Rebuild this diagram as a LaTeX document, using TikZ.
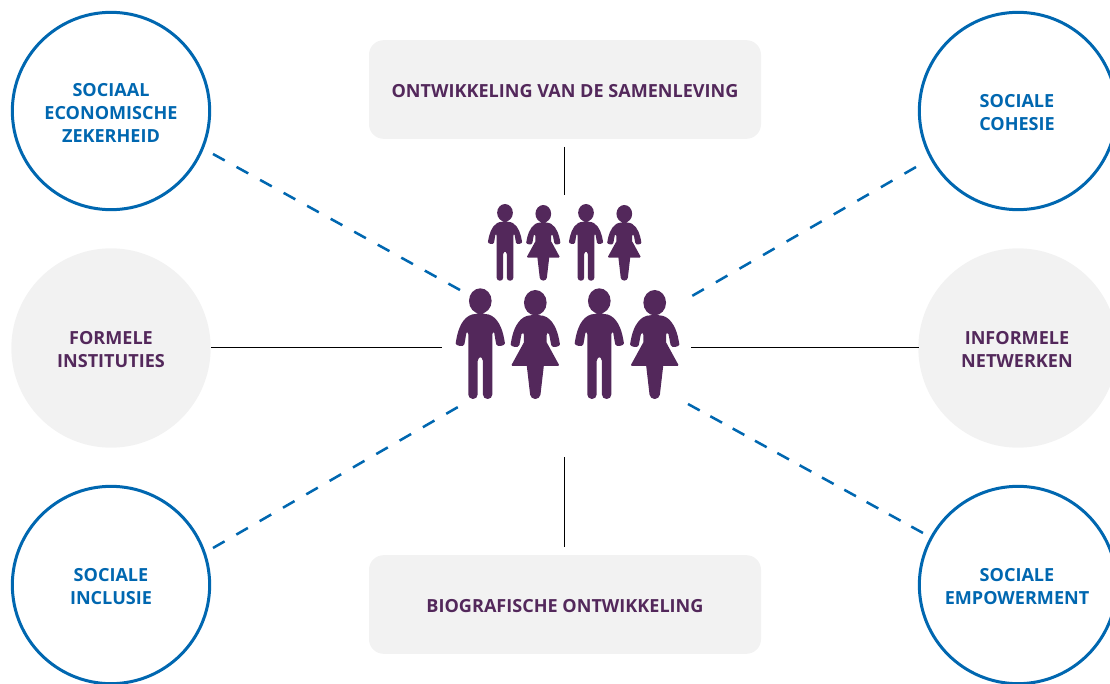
\documentclass[tikz,border=0pt]{standalone}
\usepackage{fontspec}
\setmainfont{Open Sans}
\usetikzlibrary{positioning}
\definecolor{cblue}{RGB}{0,103,176}
\definecolor{cpurple}{RGB}{83,40,91}
\definecolor{cgrey}{RGB}{242,242,242}
\tikzset{
	caption/.style={align=center,inner sep=0pt,font=\fontsize{13.55}{17.25}\selectfont\bfseries},
	ring/.style={circle,draw=cblue,line width=2.25pt,fill=white,minimum size=148pt,inner sep=0pt},
	disc/.style={circle,fill=cgrey,minimum size=149.5pt,inner sep=0pt},
	plate/.style={rectangle,rounded corners=11pt,fill=cgrey,minimum width=294pt,minimum height=74pt,inner sep=0pt},
	tagblue/.style={caption,text=cblue,yshift=-1.3pt},
	tagpurple/.style={caption,text=cpurple,yshift=-1.3pt},
	solidlink/.style={black,line width=0.6pt},
	dashlink/.style={cblue,line width=1.9pt,dash pattern=on 10pt off #1},
	bigperson/.style={scale=0.3333,rounded corners=3.3pt},
	smallperson/.style={scale=0.231,rounded corners=2.2pt},
	man/.pic={
		\fill[cpurple] (0,38) ellipse (34 and 38);
		\fill[cpurple,pic actions] (0,77) .. controls (45,77) and (62,110) .. (72,152)
			.. controls (75,172) and (50,178) .. (45,155) .. controls (43,140) and (40,130) .. (36,125)
			-- (36,332) -- (8,332) -- (8,205) -- (-8,205) -- (-8,332) -- (-36,332) -- (-36,125)
			.. controls (-40,130) and (-43,140) .. (-45,155) .. controls (-50,178) and (-75,172) .. (-72,152)
			.. controls (-62,110) and (-45,77) .. (0,77) -- cycle;
	},
	woman/.pic={
		\fill[cpurple] (0,38) ellipse (34 and 38);
		\fill[cpurple] (0,76) .. controls (45,76) and (62,110) .. (72,150)
			.. controls (75,170) and (50,176) .. (45,152) .. controls (43,140) and (40,130) .. (34,122)
			-- (34,200) -- (-34,200) -- (-34,122)
			.. controls (-40,130) and (-43,140) .. (-45,152) .. controls (-50,176) and (-75,170) .. (-72,150)
			.. controls (-62,110) and (-45,76) .. (0,76) -- cycle;
		\fill[cpurple,rounded corners=1pt] (33,155) -- (73,228) -- (-73,228) -- (-33,155) -- cycle;
		\fill[cpurple,pic actions] (27,215) -- (14,327) -- (-14,327) -- (-27,215) -- cycle;
	}
}
\begin{document}
\begin{tikzpicture}[x=0.75pt,y=-0.75pt]
	\useasboundingbox (0,0) rectangle (1110,684);
	\clip (0,0) rectangle (1110,684);
	%
	\coordinate (t0) at (564,147);
	\coordinate (t1) at (564,195);
	\coordinate (b0) at (564,457);
	\coordinate (b1) at (564,547);
	\coordinate (l0) at (211,347.6);
	\coordinate (l1) at (442,347.6);
	\coordinate (r0) at (691,347.6);
	\coordinate (r1) at (919,347.6);
	\coordinate (a0) at (213,154);
	\coordinate (a1) at (460,290);
	\coordinate (c0) at (916,167);
	\coordinate (c1) at (692,296);
	\coordinate (d0) at (213,548);
	\coordinate (d1) at (458,407);
	\coordinate (e0) at (688,404);
	\coordinate (e1) at (923,533);
	%
	\node[ring,label={[tagblue]center:SOCIAAL\\ECONOMISCHE\\ZEKERHEID}] (sociaal) at (111,111) {};
	\node[disc,label={[tagpurple]center:FORMELE\\INSTITUTIES}] (formeel) at (111,348) {};
	\node[ring,label={[tagblue]center:SOCIALE\\INCLUSIE}] (inclusie) at (111,585) {};
	\node[ring,label={[tagblue,xshift=-0.75pt]center:SOCIALE\\COHESIE}] (cohesie) at (1018,111) {};
	\node[disc,label={[tagpurple,xshift=-0.75pt]center:INFORMELE\\NETWERKEN}] (informeel) at (1018,348) {};
	\node[ring,label={[tagblue,xshift=-0.75pt]center:SOCIALE\\EMPOWERMENT}] (empower) at (1018,585) {};
	\node[plate,label={[tagpurple]center:ONTWIKKELING VAN DE SAMENLEVING}] (samen) at (565,89.5) {};
	\node[plate,label={[tagpurple]center:BIOGRAFISCHE ONTWIKKELING}] (bio) at (565,604.5) {};
	%
	\draw[solidlink] (t0) -- (t1);
	\draw[solidlink] (b0) -- (b1);
	\draw[solidlink] (l0) -- (l1);
	\draw[solidlink] (r0) -- (r1);
	\draw[dashlink=10.15pt] (a0) -- (a1);
	\draw[dashlink=10.4pt] (c0) -- (c1);
	\draw[dashlink=10.18pt] (d0) -- (d1);
	\draw[dashlink=9.1pt] (e0) -- (e1);
	%
	\pic[bigperson] at (480.3,288.3) {man};
	\pic[bigperson] at (535.3,290) {woman};
	\pic[bigperson] at (599.3,288.3) {man};
	\pic[bigperson] at (654.7,290) {woman};
	\pic[smallperson] at (505,204) {man};
	\pic[smallperson] at (543.3,205) {woman};
	\pic[smallperson] at (586,204) {man};
	\pic[smallperson] at (624.3,205) {woman};
\end{tikzpicture}
\end{document}
